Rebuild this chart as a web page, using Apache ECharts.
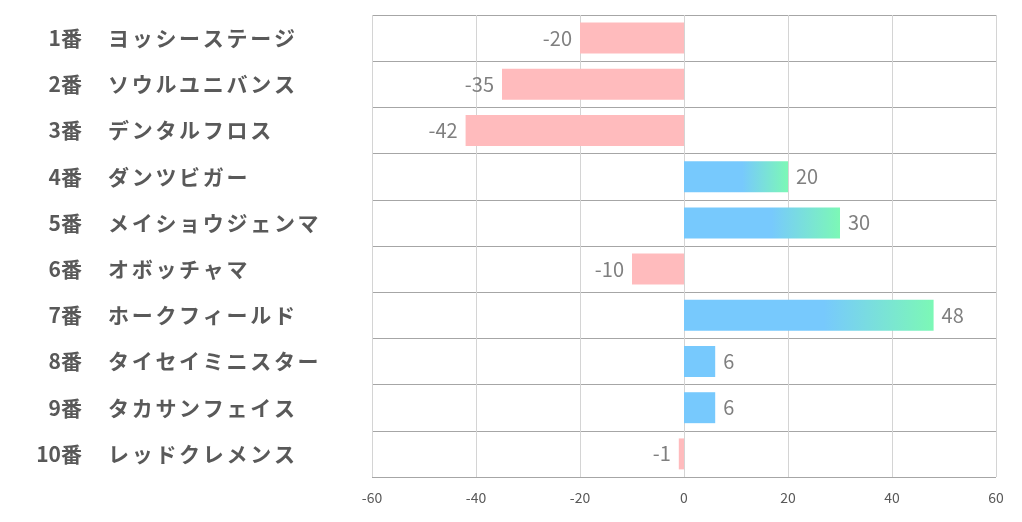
<!DOCTYPE html>
<html><head><meta charset="utf-8">
<script src="https://cdn.jsdelivr.net/npm/echarts@6/dist/echarts.min.js"></script>
<style>html,body{margin:0;padding:0;background:#fff}#c{width:1022px;height:522px}</style>
</head><body><div id="c"></div>
<script>
const numbers = ['1番','2番','3番','4番','5番','6番','7番','8番','9番','10番'];
const names = ['ヨッシーステージ','ソウルユニバンス','デンタルフロス','ダンツビガー','メイショウジェンマ','オボッチャマ','ホークフィールド','タイセイミニスター','タカサンフェイス','レッドクレメンス'];
const values = [-20,-35,-42,20,30,-10,48,6,6,-1];
const xTicks = [-60,-40,-20,0,20,40,60];

const pink = '#ffbbbd', blue = '#77c9fd', green = '#7cf8b6';
const grad = new echarts.graphic.LinearGradient(0,0,1,0,[
  {offset:0,color:blue},{offset:0.56,color:blue},{offset:1,color:green}]);
const font = '"Noto Sans CJK JP", "Noto Sans", sans-serif';
const labelStyle = {fontSize:21,fontWeight:'bold',color:'#595959',fontFamily:font};

const chart = echarts.init(document.getElementById('c'));
chart.setOption({
  animation:false,
  grid:{left:372,right:26,top:15,bottom:45},
  xAxis:{type:'value',min:xTicks[0],max:xTicks[xTicks.length-1],interval:20,
    axisLine:{show:false},axisTick:{show:false},
    splitLine:{lineStyle:{color:'#d4d4d4',width:1}},
    axisLabel:{color:'#595959',fontSize:14,fontFamily:font,margin:14}},
  yAxis:[
    {type:'category',inverse:true,data:numbers,position:'left',
      axisLine:{show:false},axisTick:{show:false},
      splitLine:{show:true,lineStyle:{color:'#a6a6a6',width:1}},
      axisLabel:Object.assign({align:'right',margin:290},labelStyle)},
    {type:'category',inverse:true,data:names,position:'left',
      axisLine:{show:false},axisTick:{show:false},splitLine:{show:false},
      axisLabel:{align:'left',margin:264,
        formatter:v=>Array.from(v).map(ch=>'{c|'+ch+'}').join(''),
        rich:{c:Object.assign({padding:[0,2.7,0,0]},labelStyle)}}}
  ],
  series:[{type:'bar',barWidth:'67%',yAxisIndex:0,
    data:values.map(v=>({value:v,
      itemStyle:{color: v<0 ? pink : (v>10 ? grad : blue)},
      label:{position: v<0 ? 'left':'right'}})),
    label:{show:true,distance:8,color:'#7f7f7f',fontSize:20,fontFamily:font}
  }]
});
</script></body></html>
